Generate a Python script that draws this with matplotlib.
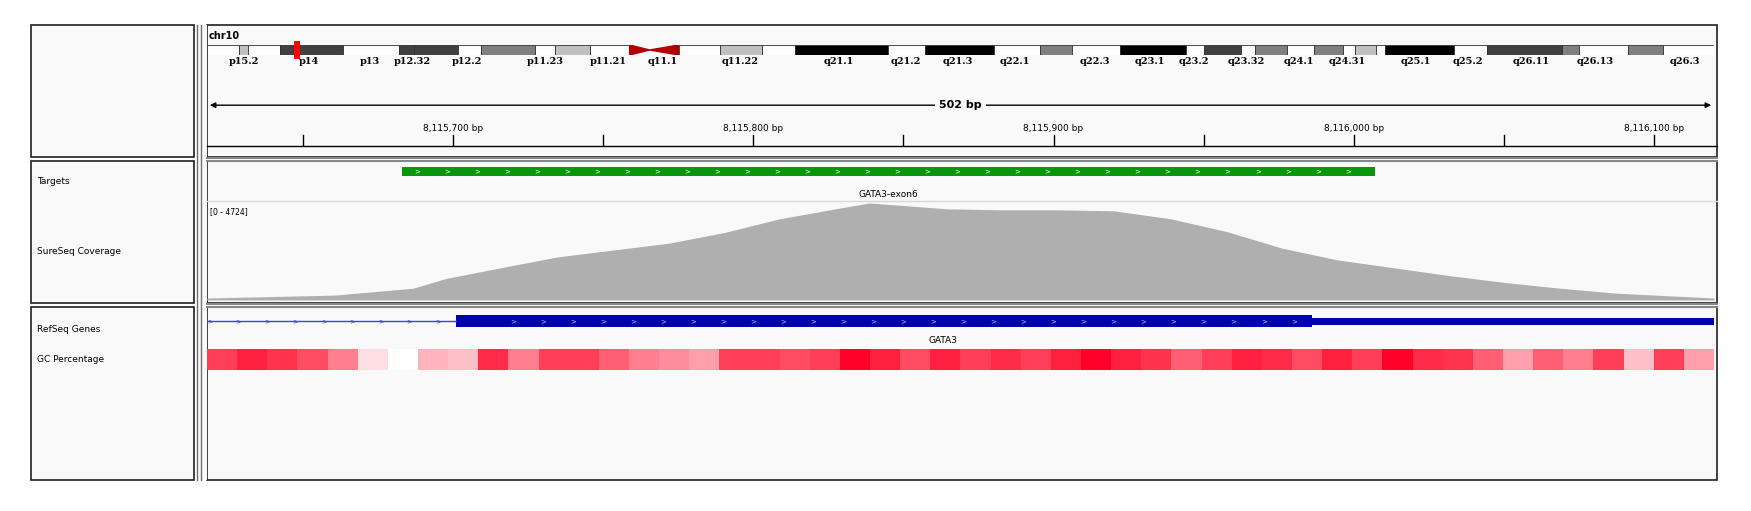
import numpy as np
import matplotlib
matplotlib.use('Agg')
import matplotlib.pyplot as plt
from matplotlib.patches import Rectangle
from matplotlib.colors import LinearSegmentedColormap

# -- view and data
VIEW_START = 8115618
VIEW_END = 8116120
TICK_LABELS = [8115700, 8115800, 8115900, 8116000, 8116100]

TARGET = (8115683, 8116007)
TARGET_NAME = 'GATA3-exon6'
EXON = (8115701, 8115986)
GENE_NAME = 'GATA3'
GENE_LABEL_POS = 8115863

COV_MAX = 4724
cov_pos = [0, 42.6, 68.6, 79.6, 98, 116.8, 135.3, 153.9, 172.5, 191, 213, 220.7, 246.6,
           265, 283.8, 302, 320.8, 339.5, 358, 376.4, 395, 413.6, 432, 450.8, 469.4, 502]
cov_pct = [2, 5, 12, 22, 33, 44, 51, 58, 69, 83, 95, 99, 93, 92, 92, 91, 83, 70, 53,
           41, 33, 25, 18, 12, 7, 2]

gc_level = [3, 3.5, 3.2, 2.8, 2, 0.5, 0, 1.2, 1, 3.3, 2, 3, 3, 2.5, 2, 1.8, 1.5, 3, 3, 2.8,
            3, 4, 3.5, 2.8, 3.5, 3, 3.3, 3, 3.5, 4, 3.5, 3.2, 2.5, 3, 3.5, 3.3, 2.8, 3.5, 3,
            4, 3.3, 3.2, 2.5, 1.5, 2.5, 2, 3, 1, 3, 1.5]

band_edges = [0, 2.9, 3.7, 6.6, 12.2, 17.3, 18.6, 22.6, 24.6, 29.5, 31.3, 34.4, 38.0, 39.8,
              42.4, 46.1, 49.9, 52.9, 61.2, 64.6, 70.8, 74.9, 77.8, 82.1, 88.0, 89.6, 93.0,
              94.2, 97.1, 99.5, 102.1, 103.2, 105.1, 105.9, 112.1, 115.1, 121.8, 123.4,
              127.8, 130.9, 135.5]
band_stain = ['w', 'g25', 'w', 'g75', 'w', 'g75', 'g75', 'w', 'g50', 'w', 'g25', 'w', 'acenp',
              'acenq', 'w', 'g25', 'w', 'blk', 'w', 'blk', 'w', 'g50', 'w', 'blk', 'w', 'g75',
              'w', 'g50', 'w', 'g50', 'w', 'g25', 'w', 'blk', 'w', 'g75', 'g50', 'w', 'g50', 'w']
band_names = ['p15.2', 'p14', 'p13', 'p12.32', 'p12.2', 'p11.23', 'p11.21', 'q11.1', 'q11.22',
              'q21.1', 'q21.2', 'q21.3', 'q22.1', 'q22.3', 'q23.1', 'q23.2', 'q23.32', 'q24.1',
              'q24.31', 'q25.1', 'q25.2', 'q26.11', 'q26.13', 'q26.3']
band_label_mb = [3.3, 9.2, 14.6, 18.5, 23.4, 30.4, 36.1, 41.0, 47.9, 56.8, 62.8, 67.5, 72.6,
                 79.8, 84.8, 88.7, 93.4, 98.2, 102.5, 108.7, 113.4, 119.1, 124.8, 132.9]
CHR_LEN = 135.5
CURRENT_MB = 8.1

STAIN_COL = {'w': 'white', 'g25': '#c0c0c0', 'g50': '#808080', 'g75': '#404040', 'blk': 'black'}

W, H = 1751, 511
fig = plt.figure(figsize=(W / 100, H / 100), dpi=100)
fig.patch.set_facecolor('white')


def px_axes(x0, y0, x1, y1):
    ax = fig.add_axes([x0 / W, 1 - y1 / H, (x1 - x0) / W, (y1 - y0) / H])
    ax.set_axis_off()
    ax.patch.set_alpha(0)
    return ax


# -- frame canvas in pixels
base = px_axes(0, 0, W, H)
base.set_xlim(0, W)
base.set_ylim(H, 0)
bg = '#f9f9f9'
for (x0, x1) in [(31, 194), (207, 1717)]:
    for (y0, y1) in [(25, 157), (161, 303), (307, 480)]:
        base.add_patch(Rectangle((x0, y0), x1 - x0, y1 - y0, facecolor=bg, edgecolor='#202020', lw=1.2))
base.add_patch(Rectangle((197, 25), 10, 455, facecolor=bg, edgecolor='none'))
for xx in (197, 201):
    base.plot([xx, xx], [25, 480], color='#707070', lw=1)
for yy in (158, 161, 304, 307):
    base.plot([207, 1717], [yy, yy], color='#888888', lw=1.5)
base.plot([207, 1717], [201, 201], color='#d8d8d8', lw=1)

lab_kw = dict(fontsize=6.5, family='DejaVu Sans', va='center', ha='left')
base.text(37, 181, 'Targets', **lab_kw)
base.text(37, 252, 'SureSeq Coverage', **lab_kw)
base.text(37, 330, 'RefSeq Genes', **lab_kw)
base.text(37, 360, 'GC Percentage', **lab_kw)
base.text(209, 36, 'chr10', fontsize=7, fontweight='bold', va='center', ha='left')

# -- ideogram
ideo = px_axes(207, 45, 1714, 55)
ideo.set_xlim(0, CHR_LEN)
ideo.set_ylim(0, 1)
for i, st in enumerate(band_stain):
    a, b = band_edges[i], band_edges[i + 1]
    if st == 'acenp':
        ideo.fill([a, b, a], [0, 0.5, 1], color='#b00000')
    elif st == 'acenq':
        ideo.fill([b, a, b], [0, 0.5, 1], color='#b00000')
    else:
        ideo.add_patch(Rectangle((a, 0), b - a, 1, facecolor=STAIN_COL[st], edgecolor='#303030', lw=0.6))
ideo.add_patch(Rectangle((CURRENT_MB - 0.3, -0.4), 0.6, 1.8, facecolor='red', edgecolor='none', clip_on=False))

names = px_axes(207, 56, 1714, 68)
names.set_xlim(0, CHR_LEN)
names.set_ylim(1, 0)
for nm, mb in zip(band_names, band_label_mb):
    names.text(mb, 0.5, nm, fontsize=7, family='DejaVu Serif', fontweight='bold', ha='center', va='center')

# -- ruler
ruler = px_axes(207, 95, 1714, 146)
ruler.set_xlim(VIEW_START, VIEW_END)
ruler.set_ylim(1, 0)
ruler.annotate('', xy=(VIEW_START, 0.2), xytext=(VIEW_END, 0.2),
               arrowprops=dict(arrowstyle='<|-|>', color='black', lw=1, mutation_scale=8))
ruler.text((VIEW_START + VIEW_END) / 2, 0.2, '%d bp' % (VIEW_END - VIEW_START), fontsize=8,
           fontweight='bold', ha='center', va='center', bbox=dict(facecolor=bg, edgecolor='none', pad=3))
for t in range(TICK_LABELS[0] - 50, VIEW_END, 50):
    ruler.plot([t, t], [0.78, 1], color='black', lw=1)
for t in TICK_LABELS:
    ruler.text(t, 0.65, '{:,} bp'.format(t), fontsize=6.5, ha='center', va='center')
base.plot([207, 1717], [146, 146], color='black', lw=1)

# -- targets
tg = px_axes(207, 165, 1714, 198)
tg.set_xlim(VIEW_START, VIEW_END)
tg.set_ylim(1, 0)
tg.add_patch(Rectangle((TARGET[0], 0.05), TARGET[1] - TARGET[0], 0.27, facecolor='#0a960a', edgecolor='none'))
for p in np.arange(TARGET[0] + 5, TARGET[1] - 3, 10):
    tg.text(p, 0.19, '>', color='white', fontsize=5, ha='center', va='center')
tg.text((TARGET[0] + TARGET[1]) / 2, 0.88, TARGET_NAME, fontsize=6.5, ha='center', va='center')

# -- coverage
cov = px_axes(207, 202, 1714, 300)
cov.set_xlim(VIEW_START, VIEW_END)
cov.set_ylim(0, COV_MAX)
cx = np.array(cov_pos) + VIEW_START
cy = np.array(cov_pct) / 100 * COV_MAX
cov.fill_between(cx, 0, cy, color='#afafaf', lw=0)
cov.text(VIEW_START + 1, COV_MAX * 0.9, '[0 - %d]' % COV_MAX, fontsize=5.5, ha='left', va='center')

# -- gene
gn = px_axes(207, 312, 1714, 346)
gn.set_xlim(VIEW_START, VIEW_END)
gn.set_ylim(1, 0)
gn.plot([VIEW_START, EXON[0]], [0.27, 0.27], color='#4040e0', lw=1)
for p in np.arange(VIEW_START + 1, EXON[0], 9.5):
    gn.text(p, 0.27, '>', color='#4040e0', fontsize=5, ha='center', va='center')
gn.add_patch(Rectangle((EXON[0], 0.1), EXON[1] - EXON[0], 0.34, facecolor='#0000b0', edgecolor='none'))
gn.add_patch(Rectangle((EXON[1], 0.17), VIEW_END - EXON[1], 0.2, facecolor='#0000b0', edgecolor='none'))
for p in np.arange(EXON[0] + 19, EXON[1] - 2, 10):
    gn.text(p, 0.27, '>', color='#c0c0ff', fontsize=5, ha='center', va='center')
gn.text(GENE_LABEL_POS, 0.85, GENE_NAME, fontsize=6.5, ha='center', va='center')

# -- GC percentage
gc = px_axes(207, 349, 1714, 370)
gc.set_xlim(VIEW_START, VIEW_END)
gc.set_ylim(0, 1)
cmap = LinearSegmentedColormap.from_list('gc', ['#ffffff', '#ffc0c8', '#ff8090', '#ff4058', '#ff0028'])
gc.imshow(np.array(gc_level)[None, :], cmap=cmap, vmin=0, vmax=4, aspect='auto',
          extent=(VIEW_START, VIEW_END, 0, 1), interpolation='nearest')
gc.set_axis_off()

fig.savefig('out.png', dpi=100, facecolor='white')
